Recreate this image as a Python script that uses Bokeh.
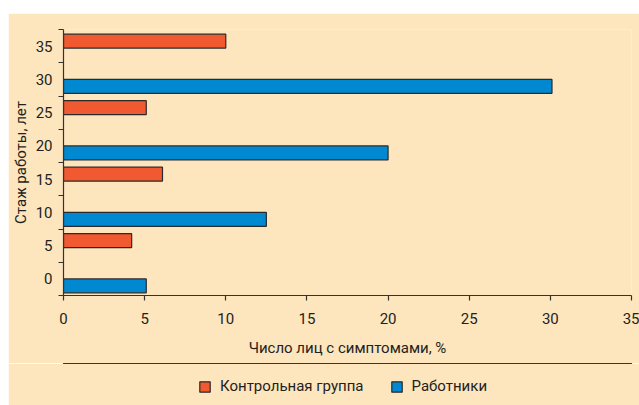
from bokeh.plotting import figure
from bokeh.models import ColumnDataSource, FixedTicker, Legend, LegendItem, Range1d, Spacer
from bokeh.layouts import column, row
from bokeh.embed import file_html
from bokeh.resources import INLINE

# ---- data ----
years = ["0", "5", "10", "15", "20", "25", "30", "35"]
control = [None, 4.2, None, 6.1, None, 5.1, None, 10.0]      # Контрольная группа
workers = [5.1, None, 12.5, None, 20.0, None, 30.1, None]    # Работники
x_ticks = [0, 5, 10, 15, 20, 25, 30, 35]
series_names = ["Контрольная группа", "Работники"]

BG = "#FDE5BE"
RED = "#F15A31"
BLUE = "#0089D0"
EDGE = "#2a2a2a"
TXT = "#231F20"
FONT = "Roboto"

p = figure(width=631, height=350, output_backend="svg", toolbar_location=None,
           x_range=Range1d(0, 35), y_range=Range1d(-0.5, len(years) - 0.5),
           min_border_left=55, min_border_right=8, min_border_top=16, min_border_bottom=68,
           background_fill_color=BG, border_fill_color=BG, outline_line_color=None)

red_src = ColumnDataSource(dict(
    y=[i + 0.15 for i, v in enumerate(control) if v is not None],
    v=[v for v in control if v is not None]))
blue_src = ColumnDataSource(dict(
    y=[i - 0.21 for i, v in enumerate(workers) if v is not None],
    v=[v for v in workers if v is not None]))

p.hbar(y="y", left=0, right="v", height=0.42, source=red_src,
       fill_color=RED, line_color=EDGE, line_width=1.2)
p.hbar(y="y", left=0, right="v", height=0.42, source=blue_src,
       fill_color=BLUE, line_color=EDGE, line_width=1.2)

p.xgrid.visible = False
p.ygrid.visible = False

# x axis
xa = p.xaxis[0]
xa.ticker = FixedTicker(ticks=x_ticks, minor_ticks=[])
xa.major_tick_out = 5
xa.major_tick_in = 0
xa.minor_tick_out = 0
xa.minor_tick_in = 0
xa.axis_label = "Число лиц с симптомами, %"

# y axis: labels at category centres, ticks at boundaries
ya = p.yaxis[0]
ya.ticker = FixedTicker(ticks=list(range(len(years))),
                        minor_ticks=[i - 0.5 for i in range(len(years) + 1)])
ya.major_label_overrides = {i: y for i, y in enumerate(years)}
ya.major_tick_out = 0
ya.major_tick_in = 0
ya.minor_tick_out = 5
ya.minor_tick_in = 0
ya.axis_label = "Стаж работы, лет"

for ax in (xa, ya):
    ax.axis_line_color = "#333333"
    ax.axis_line_width = 1.2
    ax.major_tick_line_color = "#333333"
    ax.minor_tick_line_color = "#333333"
    ax.major_tick_line_width = 1.2
    ax.minor_tick_line_width = 1.2
    ax.major_label_text_font = FONT
    ax.major_label_text_font_size = "15px"
    ax.major_label_text_color = TXT
    ax.axis_label_text_font = FONT
    ax.axis_label_text_font_size = "15px"
    ax.axis_label_text_font_style = "normal"
    ax.axis_label_text_color = TXT

xa.major_label_standoff = 12
xa.axis_label_standoff = 12
ya.major_label_standoff = 6
ya.axis_label_standoff = 3

# ---- legend strip (separate figure under the chart, same data sources) ----
p2 = figure(width=631, height=42, output_backend="svg", toolbar_location=None,
            x_range=Range1d(0, 1), y_range=Range1d(-100, -99),
            x_axis_type=None, y_axis_type=None,
            min_border=0, min_border_left=55, min_border_right=8,
            background_fill_color=BG, border_fill_color=BG,
            outline_line_color=BG, outline_line_width=3)
p2.xgrid.visible = False
p2.ygrid.visible = False
lr1 = p2.hbar(y="y", left=0, right="v", height=0.42, source=red_src,
              fill_color=RED, line_color=EDGE, line_width=1.2)
lr2 = p2.hbar(y="y", left=0, right="v", height=0.42, source=blue_src,
              fill_color=BLUE, line_color=EDGE, line_width=1.2)

legend = Legend(items=[LegendItem(label=series_names[0], renderers=[lr1]),
                       LegendItem(label=series_names[1], renderers=[lr2])],
                orientation="horizontal", location=(135, 10),
                background_fill_alpha=0, border_line_color=None,
                label_text_font=FONT, label_text_font_size="15px", label_text_color=TXT,
                glyph_width=13, glyph_height=13, label_standoff=9, spacing=26,
                padding=4, margin=0)
p2.add_layout(legend, "center")

layout = column(Spacer(width=639, height=13),
                row(Spacer(width=8, height=392), column(p, p2, spacing=0), spacing=0),
                spacing=0)
open("out.html", "w").write(file_html(layout, INLINE))
